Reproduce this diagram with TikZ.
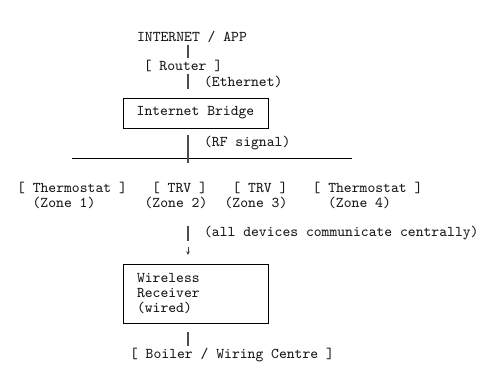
\documentclass[tikz,border=0pt]{standalone}
\usepackage{fontspec}
\usetikzlibrary{arrows.meta, positioning, calc}

\begin{document}
\begin{tikzpicture}[
  x=0.02cm, y=-0.02cm,
  >=Stealth,
  every node/.style={inner sep=1pt, font=\ttfamily\fontsize{8.5}{8.5}\selectfont, text=black!90},
  unitbox/.style={draw, line width=0.5pt, minimum width=2.9cm},
  wire/.style={line width=0.7pt, black!70},
]

% ── Canvas ────────────────────────────────────────────────────────────────────
\useasboundingbox (0,0) rectangle (503,386);
\coordinate (bx) at (188,0);   % x of the vertical trunk

% ── Upstream chain ────────────────────────────────────────────────────────────
\node (internet) at (192,37) {INTERNET / APP};
\node (router)   at (183,66) {[ Router ]};
\node[anchor=west] (ethlbl) at (202,82) {(Ethernet)};

\node[unitbox, minimum height=0.6cm] (bridge) at (195.5,113) {Internet Bridge};
\node[anchor=west] (rflbl) at (202,143) {(RF signal)};

% RF bus line
\coordinate (busL) at (72,158);
\coordinate (busR) at (352,158);
\draw[line width=0.5pt] (busL) -- (busR);

% ── Zone devices ──────────────────────────────────────────────────────────────
\node (therm1) at (72,188)    {[ Thermostat ]};
\node (zone1)  at (64,203)    {(Zone 1)};
\node (trv2)   at (179.5,188) {[ TRV ]};
\node (zone2)  at (176,203)   {(Zone 2)};
\node (trv3)   at (260,188)   {[ TRV ]};
\node (zone3)  at (256,203)   {(Zone 3)};
\node (therm4) at (367.5,188) {[ Thermostat ]};
\node (zone4)  at (359.5,203) {(Zone 4)};

\node[anchor=west] (commlbl) at (202,233) {(all devices communicate centrally)};

% ── Downstream chain ──────────────────────────────────────────────────────────
\node[unitbox, minimum height=1.18cm, text width=2.34cm, inner xsep=0.28cm, align=left]
  (receiver) at (195.5,293.5) {Wireless\\Receiver\\(wired)};
\node (boiler) at (232,355) {[ Boiler / Wiring Centre ]};

% ── Trunk segments ────────────────────────────────────────────────────────────
\coordinate (rfend)  at (188,163);
\coordinate (commtop) at (188,226);
\coordinate (commend) at (188,241);
\coordinate (tipstart) at (188,247);
\draw[wire] (internet.south -| bx) -- (router.north -| bx);
\draw[wire, shorten >=5pt] (router.south -| bx) -- (bridge.north -| bx);
\draw[wire, shorten <=4pt] (bridge.south -| bx) -- (rfend);
\draw[wire] (commtop) -- (commend);
\draw[-{Stealth[length=2pt,width=2pt]}, line width=0.4pt, black!75, shorten >=5pt]
  (tipstart) -- (receiver.north -| bx);
\draw[wire, shorten <=5pt] (receiver.south -| bx) -- (boiler.north -| bx);

\end{tikzpicture}
\end{document}
